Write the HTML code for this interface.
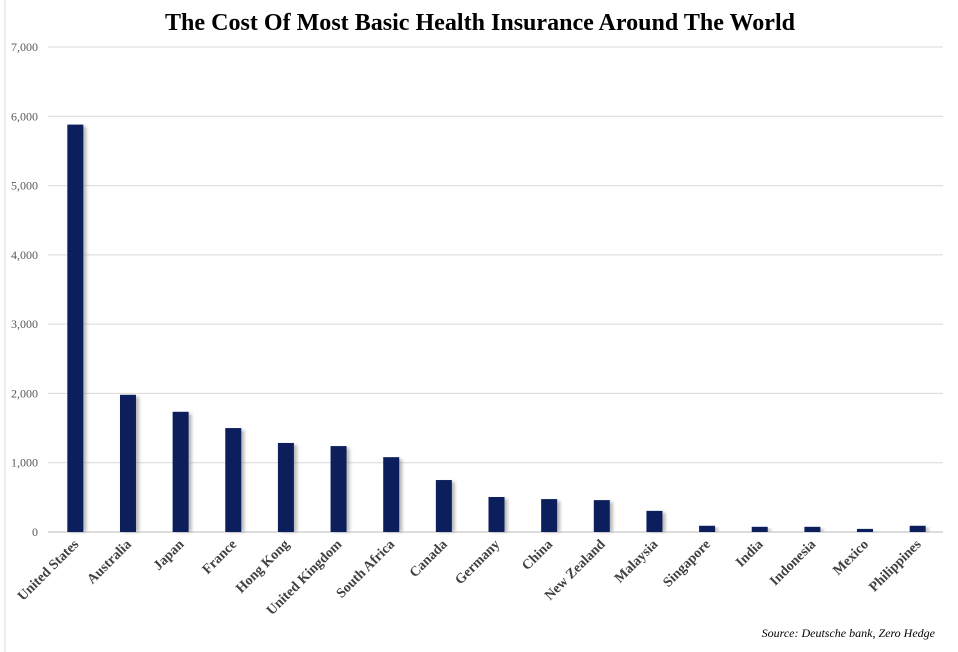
<!DOCTYPE html>
<html><head><meta charset="utf-8"><style>
body{margin:0;background:#fff;width:958px;height:652px;overflow:hidden}
svg{display:block}
</style></head><body>
<svg id="chart" width="958" height="652" xmlns="http://www.w3.org/2000/svg" font-family="Liberation Serif, serif">
<defs><filter id="sh" x="-50%" y="-10%" width="200%" height="120%"><feGaussianBlur stdDeviation="1.5"/></filter></defs>
<rect x="0" y="0" width="958" height="652" fill="#fff"/>
<line x1="5" y1="0" x2="5" y2="652" stroke="#ddd"/>
<text x="480" y="30" text-anchor="middle" font-size="24" font-weight="bold" fill="#000" textLength="630" lengthAdjust="spacingAndGlyphs">The Cost Of Most Basic Health Insurance Around The World</text>
<g id="grid"></g><g id="bars"></g><g id="labels"></g>
<text x="935" y="637" text-anchor="end" font-size="12" font-style="italic" fill="#000">Source: Deutsche bank, Zero Hedge</text>
</svg>
<script>
const categories=["United States","Australia","Japan","France","Hong Kong","United Kingdom","South Africa","Canada","Germany","China","New Zealand","Malaysia","Singapore","India","Indonesia","Mexico","Philippines"];
const values=[5880,1980,1735,1500,1285,1240,1080,750,505,475,460,305,90,75,75,45,90];
const yTicks=[0,1000,2000,3000,4000,5000,6000,7000];
const yTickLabels=["0","1,000","2,000","3,000","4,000","5,000","6,000","7,000"];
const NS="http://www.w3.org/2000/svg";
const x0=48,x1=943,yBase=532,yTop=47,yMax=7000;
const y=v=>yBase-(v/yMax)*(yBase-yTop);
const step=(x1-x0)/categories.length;
const xc=i=>x0+step*(i+0.5)+1;
function mk(t,a){const e=document.createElementNS(NS,t);for(const k in a)e.setAttribute(k,a[k]);return e;}
const grid=document.getElementById('grid');
yTicks.forEach((t,i)=>{
 const l=mk('line',{x1:x0,x2:x1,y1:y(t),y2:y(t),stroke:t===0?'#bbb':'#d9d9d9'});
 
 
 grid.appendChild(l);
 const tx=mk('text',{x:38,y:y(t)+4,'text-anchor':'end','font-size':12,fill:'#595959'});
 tx.textContent=yTickLabels[i];
 
 
 grid.appendChild(tx);
});
const bars=document.getElementById('bars'),labels=document.getElementById('labels');
categories.forEach((c,i)=>{
 const cx=xc(i),w=16;
 const s=mk('rect',{x:cx-w/2+3,y:y(values[i])+2,width:w,height:yBase-y(values[i])-2,fill:'#888',opacity:0.6,filter:'url(#sh)'});
 
 
 bars.appendChild(s);
 const r=mk('rect',{x:cx-w/2,y:y(values[i]),width:w,height:yBase-y(values[i]),fill:'#0c1f5c'});
 
 
 bars.appendChild(r);
 const t=mk('text',{x:cx+4,y:545,'text-anchor':'end','font-size':14,'font-weight':'bold',fill:'#404040',transform:`rotate(-45 ${cx+4} 545)`});
 t.textContent=c;
 
 
 labels.appendChild(t);
});
</script>
</body></html>
